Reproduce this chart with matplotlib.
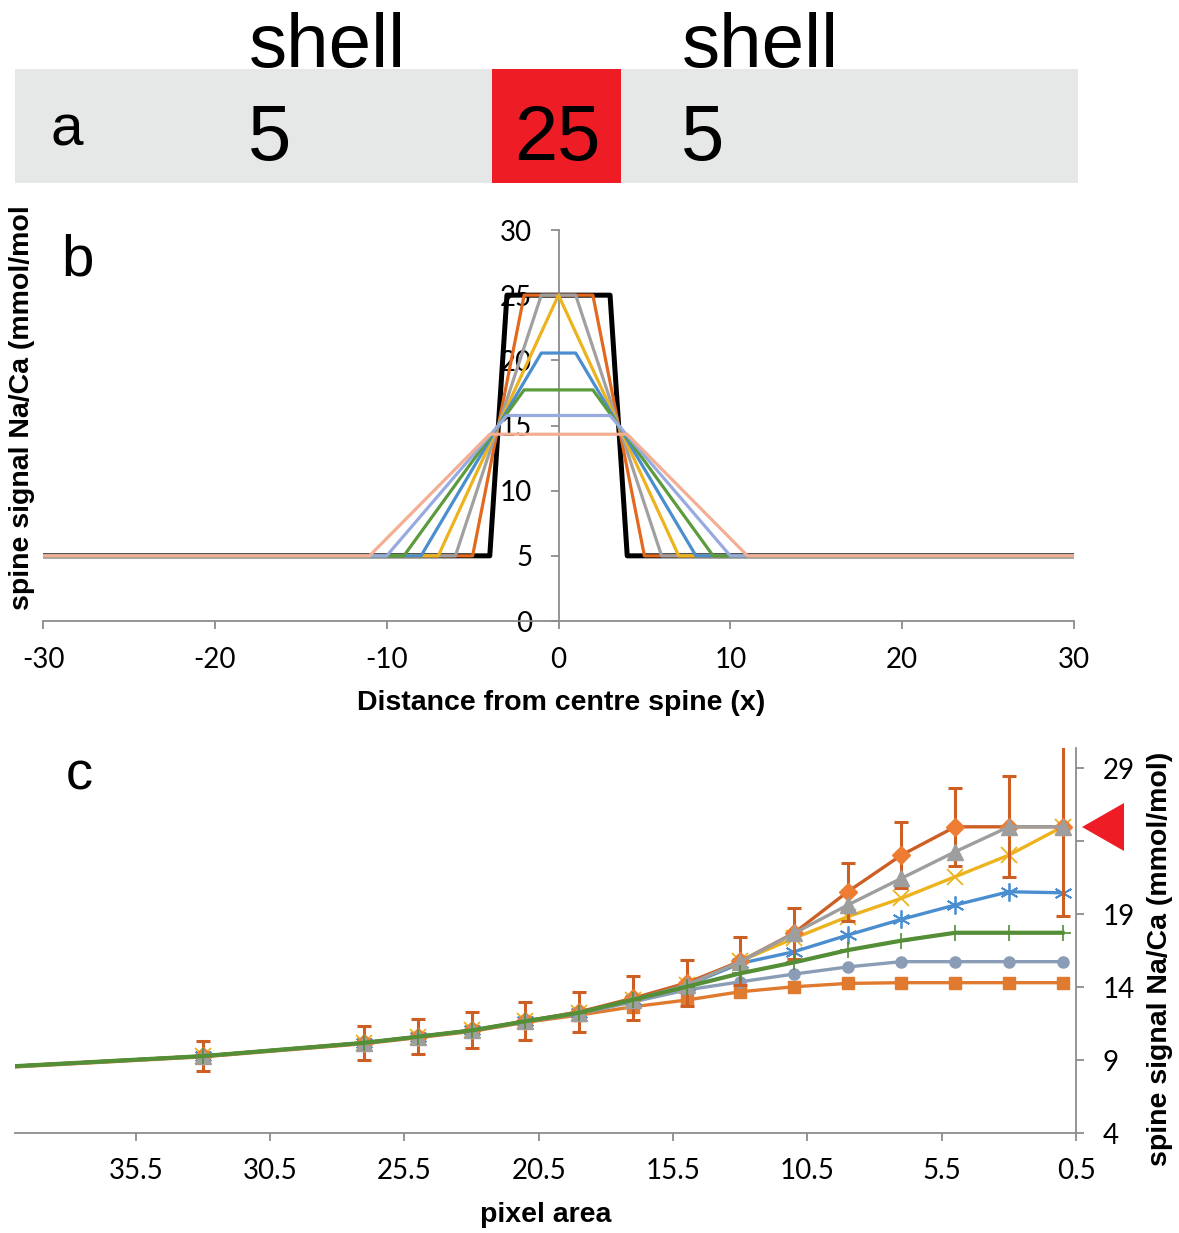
import matplotlib
matplotlib.use("Agg")
import matplotlib.pyplot as plt
from matplotlib.patches import Rectangle, Polygon

plt.rcParams["axes.unicode_minus"] = False

# ---------------- data ----------------
# panel a
shell_labels = ["shell", "shell"]
cell_values = ["5", "25", "5"]

# panel b : profiles (vertices of each polyline)
black_x = [-30, -4, -3, 3, 4, 30]
black_y = [5, 5, 25, 25, 5, 5]
orange_x = [-30, -5, -2, 2, 5, 30]
orange_y = [5, 5, 25, 25, 5, 5]
gray_x = [-30, -6, -1, 1, 6, 30]
gray_y = [5, 5, 25, 25, 5, 5]
gold_x = [-30, -7, 0, 7, 30]
gold_y = [5, 5, 25, 5, 5]
blue_x = [-30, -8, -1, 1, 8, 30]
blue_y = [5, 5, 20.56, 20.56, 5, 5]
green_x = [-30, -9, -2, 2, 9, 30]
green_y = [5, 5, 17.73, 17.73, 5, 5]
lav_x = [-30, -10, -3, 3, 10, 30]
lav_y = [5, 5, 15.77, 15.77, 5, 5]
salmon_x = [-30, -11, -4, 4, 11, 30]
salmon_y = [5, 5, 14.33, 14.33, 5, 5]
b_xticks = [-30, -20, -10, 0, 10, 20, 30]
b_yticks = [0, 5, 10, 15, 20, 25, 30]

# panel c
pixel_area = [1, 3, 5, 7, 9, 11, 13, 15, 17, 19, 21, 23, 25, 27, 33, 41]
diamond_y = [25, 25, 25, 23.06, 20.55, 17.72, 15.78, 14.3, 13.25, 12.32, 11.68, 11.05, 10.62, 10.2, 9.29, 8.5]
diamond_err = [6.1, 3.47, 2.67, 2.26, 2.0, 1.75, 1.65, 1.55, 1.5, 1.37, 1.3, 1.23, 1.22, 1.15, 1.05, 1.0]
triangle_y = [25, 25, 23.29, 21.47, 19.64, 17.70, 15.75, 14.16, 13.13, 12.26, 11.68, 11.05, 10.62, 10.2, 9.29, 8.5]
cross_y = [25, 23.06, 21.58, 20.1, 18.84, 17.36, 15.8, 14.16, 13.13, 12.26, 11.68, 11.05, 10.62, 10.2, 9.29, 8.5]
star_y = [20.48, 20.55, 19.64, 18.66, 17.58, 16.44, 15.64, 14.12, 13.13, 12.26, 11.68, 11.05, 10.62, 10.2, 9.29, 8.5]
plus_y = [17.74, 17.74, 17.74, 17.2, 16.55, 15.71, 14.96, 14.04, 13.15, 12.26, 11.68, 11.05, 10.62, 10.2, 9.29, 8.5]
circle_y = [15.76, 15.76, 15.76, 15.76, 15.4, 14.91, 14.38, 13.82, 13.0, 12.2, 11.65, 11.03, 10.6, 10.18, 9.27, 8.48]
square_y = [14.32, 14.32, 14.32, 14.32, 14.27, 14.04, 13.7, 13.13, 12.67, 12.1, 11.6, 10.98, 10.55, 10.14, 9.24, 8.45]
c_xticks = [35.5, 30.5, 25.5, 20.5, 15.5, 10.5, 5.5, 0.5]
c_yticks = [4, 9, 14, 19, 24, 29]
c_ylabels = ["4", "9", "14", "19", "", "29"]

# ---------------- figure ----------------
W, H = 1179, 1233
fig = plt.figure(figsize=(W / 100, H / 100), dpi=100)


def fx(px):
    return px / W


def fy(py):
    return 1 - py / H


TICKFONT = ["Lato", "DejaVu Sans"]
LABFONT = ["Liberation Sans", "DejaVu Sans"]
AXCOL = "#8C8C8C"
TICKSIZE = 20

# ---------------- panel a ----------------
fig.add_artist(Rectangle((fx(15), fy(183)), fx(1078) - fx(15), fy(69) - fy(183),
                         transform=fig.transFigure, facecolor="#E6E7E7", edgecolor="none"))
fig.add_artist(Rectangle((fx(492), fy(183)), fx(621) - fx(492), fy(69) - fy(183),
                         transform=fig.transFigure, facecolor="#EE1C25", edgecolor="none"))
fig.text(fx(67), fy(145), "a", ha="center", va="baseline", fontsize=42, family=LABFONT)
for xc, s in zip([327, 760], shell_labels):
    fig.text(fx(xc), fy(67), s, ha="center", va="baseline", fontsize=55, family=LABFONT)
for xc, s in zip([270, 557, 703], cell_values):
    fig.text(fx(xc), fy(160), s, ha="center", va="baseline", fontsize=56, family=LABFONT)

# ---------------- panel b ----------------
axb = fig.add_axes([fx(43), fy(621), fx(1074) - fx(43), fy(230) - fy(621)])
axb.set_xlim(-30, 30)
axb.set_ylim(0, 30)
axb.patch.set_alpha(0)
for s in ["top", "right"]:
    axb.spines[s].set_visible(False)
axb.spines["left"].set_position(("data", 0))
for s in ["left", "bottom"]:
    axb.spines[s].set_color(AXCOL)
    axb.spines[s].set_linewidth(1.3)
axb.set_xticks(b_xticks)
axb.set_yticks(b_yticks)
axb.tick_params(axis="both", direction="out", length=6, width=1.3, color=AXCOL,
                labelsize=TICKSIZE)
axb.tick_params(axis="x", pad=13)
axb.tick_params(axis="y", pad=13)
for lab in axb.get_xticklabels() + axb.get_yticklabels():
    lab.set_family(TICKFONT)

lw = 2.3
axb.plot(black_x, black_y, color="black", lw=3.6, zorder=2)
axb.plot(orange_x, orange_y, color="#E2691F", lw=lw, zorder=3)
axb.plot(gray_x, gray_y, color="#A0A0A0", lw=lw, zorder=3)
axb.plot(gold_x, gold_y, color="#EDB31E", lw=lw, zorder=3)
axb.plot(blue_x, blue_y, color="#4A8ED0", lw=lw, zorder=3)
axb.plot(green_x, green_y, color="#5C9B3C", lw=lw, zorder=3)
axb.plot(lav_x, lav_y, color="#98ABDF", lw=lw, zorder=3)
axb.plot(salmon_x, salmon_y, color="#F4AE94", lw=lw, zorder=3)

fig.text(fx(78), fy(275), "b", ha="center", va="baseline", fontsize=42, family=LABFONT)
fig.text(fx(22), fy(408), "spine signal Na/Ca (mmol/mol", rotation=90, ha="center",
         va="center", fontsize=20.5, fontweight="bold", family=LABFONT)
fig.text(fx(561), fy(703), "Distance from centre spine (x)", ha="center", va="center",
         fontsize=20.5, fontweight="bold", family=LABFONT)

# ---------------- panel c ----------------
axc = fig.add_axes([fx(15), fy(1133.3), fx(1076) - fx(15), fy(748) - fy(1133.3)])
axc.set_xlim(40, 0.5)
axc.set_ylim(4, 30.4)
axc.patch.set_alpha(0)
for s in ["top", "left"]:
    axc.spines[s].set_visible(False)
for s in ["right", "bottom"]:
    axc.spines[s].set_color(AXCOL)
    axc.spines[s].set_linewidth(1.3)
axc.yaxis.tick_right()
axc.set_xticks(c_xticks)
axc.set_xticklabels([f"{v:.1f}" for v in c_xticks])
axc.set_yticks(c_yticks)
axc.set_yticklabels(c_ylabels)
axc.tick_params(axis="both", direction="out", length=6, width=1.3, color=AXCOL,
                labelsize=TICKSIZE)
axc.tick_params(axis="x", pad=12)
axc.tick_params(axis="y", pad=13)
for lab in axc.get_xticklabels() + axc.get_yticklabels():
    lab.set_family(TICKFONT)

clw = 2.4
axc.plot(pixel_area, square_y, color="#E07A2E", lw=clw, marker="s", ms=8,
         mfc="#E07A2E", mec="#E07A2E", zorder=3)
axc.plot(pixel_area, circle_y, color="#8A9CB6", lw=clw, marker="o", ms=8,
         mfc="#8A9CB6", mec="#8A9CB6", zorder=3)
axc.plot(pixel_area, star_y, color="#4A8ED0", lw=clw, marker=(6, 2, 0), ms=13,
         mew=1.3, mec="#4A8ED0", zorder=4)
axc.plot(pixel_area, cross_y, color="#EDB31E", lw=clw, marker="x", ms=11,
         mew=1.3, mec="#EDB31E", zorder=4)
axc.errorbar(pixel_area, diamond_y, yerr=diamond_err, color="#CE5F24", lw=clw,
             marker="D", ms=9, mfc="#EE7D33", mec="#EE7D33", ecolor="#CE5F24",
             elinewidth=2.2, capsize=5, capthick=2.2, zorder=5)
axc.plot(pixel_area, triangle_y, color="#9E9E9E", lw=clw, marker="^", ms=12,
         mfc="#9E9E9E", mec="#9E9E9E", zorder=6)
axc.plot(pixel_area, plus_y, color="#548E36", lw=3.0, marker="+", ms=11,
         mew=1.2, mec="#548E36", zorder=7)

fig.add_artist(Polygon([(fx(1082), fy(827)), (fx(1124), fy(803)), (fx(1124), fy(851))],
                       closed=True, transform=fig.transFigure, facecolor="#EE1C25",
                       edgecolor="none"))

fig.text(fx(79), fy(790), "c", ha="center", va="baseline", fontsize=39, family=LABFONT)
fig.text(fx(546), fy(1215), "pixel area", ha="center", va="center",
         fontsize=20.5, fontweight="bold", family=LABFONT)
fig.text(fx(1160), fy(959), "spine signal Na/Ca (mmol/mol)", rotation=90, ha="center",
         va="center", fontsize=20.5, fontweight="bold", family=LABFONT)

fig.savefig("out.png", dpi=100)
